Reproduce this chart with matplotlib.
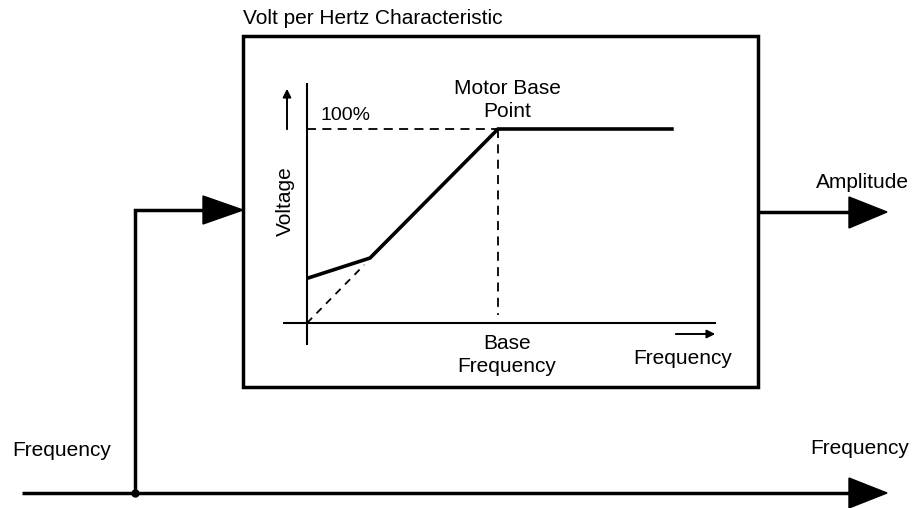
import matplotlib
matplotlib.use("Agg")
import matplotlib.pyplot as plt
from matplotlib.patches import Polygon, Rectangle

plt.rcParams['font.family'] = ['Liberation Sans', 'DejaVu Sans']

# V/Hz characteristic (frequency and voltage in % of base values)
freq_pct = [0, 33, 100, 192]
volt_pct = [23, 33.5, 100, 100]
ideal_freq = [0, 30]
ideal_volt = [0, 30]
base_freq = 100
full_volt = 100

title = "Volt per Hertz Characteristic"
labels_in = ["Frequency", "Frequency"]
label_out = "Amplitude"

fig = plt.figure(figsize=(9.16, 5.08), dpi=100)
ax = fig.add_axes([0, 0, 1, 1])
ax.set_xlim(0, 916)
ax.set_ylim(508, 0)
ax.axis('off')

LW = 2.5
FS = 15
# box
ax.add_patch(Rectangle((243, 36), 515, 351, fill=False, lw=LW, ec='black'))
ax.text(243, 18, title, fontsize=FS, va='center', ha='left')

# bottom frequency line
ax.plot([22, 852], [493, 493], color='black', lw=LW, solid_capstyle='butt')
ax.add_patch(Polygon([[849, 478], [887, 493], [849, 508]], closed=True, color='black'))
ax.plot([135], [493], 'o', color='black', ms=5)
# branch to box
ax.plot([135, 135, 206], [493, 210, 210], color='black', lw=LW, solid_joinstyle='miter')
ax.add_patch(Polygon([[203, 196], [243, 210], [203, 224]], closed=True, color='black'))
# output
ax.plot([758, 852], [212, 212], color='black', lw=LW, solid_capstyle='butt')
ax.add_patch(Polygon([[849, 197], [887, 212], [849, 228]], closed=True, color='black'))

ax.text(12, 450, labels_in[0], fontsize=FS, va='center', ha='left')
ax.text(909, 448, labels_in[1], fontsize=FS, va='center', ha='right')
ax.text(909, 182, label_out, fontsize=FS, va='center', ha='right')

# inset characteristic
ox, oy = 307, 323
sx, sy = 1.91, 1.94
L, R, T, B = 283, 717, 83, 345
iax = fig.add_axes([L / 916, (508 - B) / 508, (R - L) / 916, (B - T) / 508])
iax.set_xlim((L - ox) / sx, (R - ox) / sx)
iax.set_ylim((oy - B) / sy, (oy - T) / sy)
iax.axis('off')
iax.patch.set_alpha(0)

iax.plot([(L - ox) / sx, (715 - ox) / sx], [0, 0], color='black', lw=1.5)
iax.plot([0, 0], [(oy - B) / sy, (oy - T) / sy], color='black', lw=1.5)
iax.plot([0, base_freq], [full_volt, full_volt], color='black', lw=1.3, ls=(0, (5, 3.5)))
iax.plot([base_freq, base_freq], [full_volt, 4], color='black', lw=1.3, ls=(0, (5, 3.5)))
iax.plot(ideal_freq, ideal_volt, color='black', lw=1.3, ls=(0, (4, 3.5)))
iax.plot(freq_pct, volt_pct, color='black', lw=2.6, solid_joinstyle='miter', solid_capstyle='butt')

# small axis arrows
ax.annotate('', xy=(287, 86), xytext=(287, 132),
            arrowprops=dict(arrowstyle='-|>', color='black', lw=1.4, mutation_scale=12))
ax.annotate('', xy=(718, 334), xytext=(673, 334),
            arrowprops=dict(arrowstyle='-|>', color='black', lw=1.4, mutation_scale=12))

ax.text(285, 201, "Voltage", fontsize=FS, rotation=90, va='center', ha='center')
ax.text(320, 115, "100%", fontsize=14, va='center', ha='left')
ax.text(507, 100, "Motor Base\nPoint", fontsize=FS, va='center', ha='center', linespacing=1.3)
ax.text(507, 355, "Base\nFrequency", fontsize=FS, va='center', ha='center', linespacing=1.3)
ax.text(683, 358, "Frequency", fontsize=FS, va='center', ha='center')

fig.savefig("out.png", dpi=100)
